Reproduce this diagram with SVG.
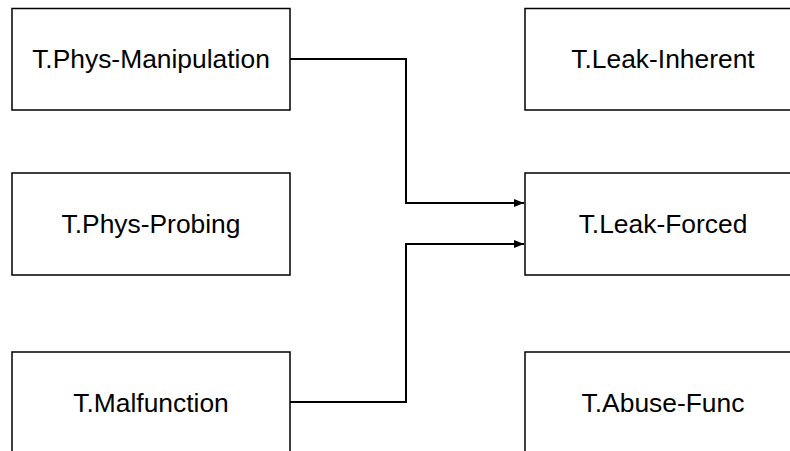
<svg xmlns="http://www.w3.org/2000/svg" width="790" height="451" viewBox="0 0 790 451">
<defs>
<style>
.box{fill:#fff;stroke:#000;stroke-width:1.5}
.lbl{font-family:"Liberation Sans",Arial,sans-serif;font-size:26.4px;fill:#000;text-anchor:middle}
.conn{fill:none;stroke:#000;stroke-width:2}
</style>
<marker id="arr" viewBox="0 0 10 8" refX="10" refY="4" markerWidth="10" markerHeight="8" markerUnits="userSpaceOnUse" orient="auto">
<path d="M0,0 L10,4 L0,8 Z" fill="#000"/>
</marker>
</defs>
<rect width="790" height="451" fill="#fff"/>
<g id="n-phys-manipulation"><rect class="box" x="12" y="8.5" width="278" height="101.5"/><text class="lbl" x="151" y="68">T.Phys-Manipulation</text></g>
<g id="n-phys-probing"><rect class="box" x="12" y="173" width="278" height="102"/><text class="lbl" x="151" y="233">T.Phys-Probing</text></g>
<g id="n-malfunction"><rect class="box" x="12" y="352" width="278" height="102"/><text class="lbl" x="151" y="412">T.Malfunction</text></g>
<g id="n-leak-inherent"><rect class="box" x="525" y="8.5" width="276" height="101.5"/><text class="lbl" x="663" y="68">T.Leak-Inherent</text></g>
<g id="n-leak-forced"><rect class="box" x="525" y="173" width="276" height="102"/><text class="lbl" x="663" y="233">T.Leak-Forced</text></g>
<g id="n-abuse-func"><rect class="box" x="525" y="352" width="276" height="102"/><text class="lbl" x="663" y="412">T.Abuse-Func</text></g>
<g id="connectors">
<polyline class="conn" points="290,59 406,59 406,203 524,203" marker-end="url(#arr)"/>
<polyline class="conn" points="290,402 406,402 406,244 524,244" marker-end="url(#arr)"/>
</g>
</svg>
